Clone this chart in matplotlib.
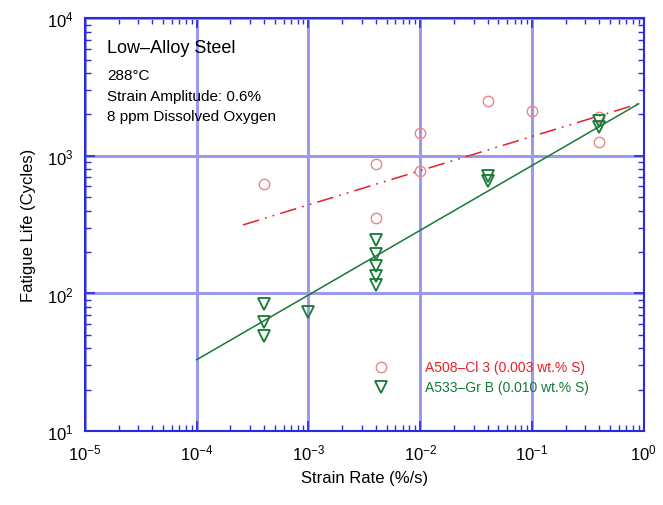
import numpy as np
import matplotlib
matplotlib.use("Agg")
import matplotlib.pyplot as plt

plt.rcParams['font.family'] = ['Liberation Sans', 'DejaVu Sans']

# A508-Cl 3 (circles)
a508_rate = [4e-4, 4e-3, 4e-3, 1e-2, 1e-2, 4e-2, 1e-1, 4e-1, 4e-1]
a508_life = [626, 875, 354, 1470, 778, 2500, 2125, 1910, 1265]

# A533-Gr B (triangles)
a533_rate = [4e-4, 4e-4, 4e-4, 1e-3, 4e-3, 4e-3, 4e-3, 4e-3, 4e-3, 4e-2, 4e-2, 4e-1, 4e-1]
a533_life = [84, 62, 49, 73, 245, 195, 158, 134, 115, 716, 659, 1780, 1620]

# fit lines (end points)
red_fit_x = [2.6e-4, 0.9]
red_fit_y = [315, 2390]
green_fit_x = [1e-4, 0.9]
green_fit_y = [33, 2390]

frame_col = '#2a2ae0'
grid_col = '#9a9af0'
red = '#e8202a'
pink = '#e88888'
green = '#157a35'

fig = plt.figure(figsize=(6.63, 5.06), dpi=100)
ax = fig.add_axes([0.128, 0.146, 0.843, 0.816])

ax.set_xscale('log')
ax.set_yscale('log')
ax.set_xlim(1e-5, 1)
ax.set_ylim(10, 1e4)

ax.grid(True, which='major', color=grid_col, linewidth=2.2)
ax.set_axisbelow(True)

ax.plot(red_fit_x, red_fit_y, color=red, linewidth=1.1, dashes=(11, 4, 1.2, 4, 1.2, 4))
ax.plot(green_fit_x, green_fit_y, color=green, linewidth=1.1)

ax.plot(a508_rate, a508_life, linestyle='none', marker='o', markersize=7.5,
        markerfacecolor='none', markeredgecolor=pink, markeredgewidth=1)
ax.plot(a533_rate, a533_life, linestyle='none', marker='v', markersize=8.5,
        markerfacecolor='none', markeredgecolor=green, markeredgewidth=1.3)

for s in ax.spines.values():
    s.set_color(frame_col)
    s.set_linewidth(1.5)
ax.tick_params(which='both', direction='in', top=True, right=True, color=frame_col,
               labelsize=12, pad=8)
ax.tick_params(which='major', length=7, width=1.2)
ax.tick_params(which='minor', length=4, width=1)

ax.set_xlabel('Strain Rate (%/s)', fontsize=12, labelpad=6)
ax.set_ylabel('Fatigue Life (Cycles)', fontsize=12, labelpad=8)

ax.text(0.04, 0.93, 'Low\u2013Alloy Steel', transform=ax.transAxes, fontsize=13, va='center')
info = ['288\u00b0C', 'Strain Amplitude: 0.6%', '8 ppm Dissolved Oxygen']
for i, t in enumerate(info):
    ax.text(0.04, 0.862 - i * 0.05, t, transform=ax.transAxes, fontsize=11, va='center')

# legend
ax.plot([0.529], [0.155], transform=ax.transAxes, marker='o', markersize=7.5,
        markerfacecolor='none', markeredgecolor=pink, linestyle='none', clip_on=False)
ax.plot([0.529], [0.107], transform=ax.transAxes, marker='v', markersize=8.5,
        markerfacecolor='none', markeredgecolor=green, markeredgewidth=1.3,
        linestyle='none', clip_on=False)
ax.text(0.608, 0.155, 'A508\u2013Cl 3 (0.003 wt.% S)', transform=ax.transAxes,
        color=red, fontsize=10, va='center')
ax.text(0.608, 0.107, 'A533\u2013Gr B (0.010 wt.% S)', transform=ax.transAxes,
        color=green, fontsize=10, va='center')

fig.savefig('out.png', dpi=100)
